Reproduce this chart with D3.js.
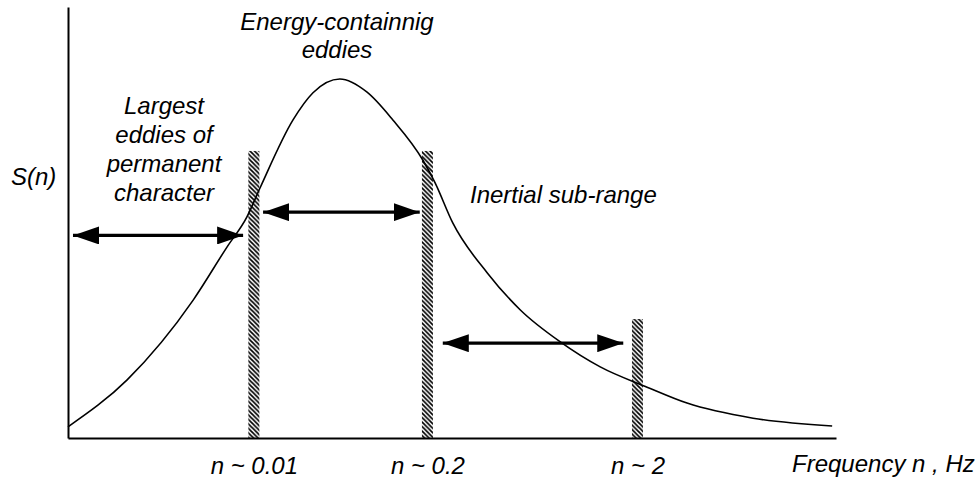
<!DOCTYPE html>
<html>
<head>
<meta charset="utf-8">
<script src="https://cdn.jsdelivr.net/npm/d3@7"></script>
<style>
  html, body { margin: 0; padding: 0; background: #fff; }
  svg { display: block; }
  text { font-family: "Liberation Sans", Arial, sans-serif; font-style: italic; fill: #000; }
</style>
</head>
<body>
<svg id="chart" width="977" height="478"></svg>
<script>
// ---- Data (schematic units) ----
// Spectrum curve S(n): position along frequency axis (arbitrary units) and value
const curveX = [0, 0.77, 1.63, 2.07, 2.33, 2.50, 2.93, 3.19, 3.54, 3.89, 4.23, 4.62, 4.78, 5.01, 5.46, 5.89, 6.41, 6.93, 7.54, 8.06, 8.92, 9.95];
const curveY = [0.26, 1.35, 3.20, 4.43, 5.13, 5.80, 7.38, 8.01, 8.33, 8.03, 7.38, 6.45, 5.92, 4.99, 3.83, 2.97, 2.23, 1.65, 1.18, 0.81, 0.46, 0.28];

// Hatched separators (frequency boundaries)
const boundaryX = [2.42, 4.68, 7.415];
const boundaryTop = [6.66, 6.66, 2.76];
const boundaryLabels = ["n ~ 0.01", "n ~ 0.2", "n ~ 2"];

// Double-headed range arrows
const arrowX0 = [0.065, 2.54, 4.88];
const arrowX1 = [2.28, 4.58, 7.23];
const arrowY = [4.70, 5.24, 2.20];

// Text labels
const regionLabels = [
  ["Largest", "eddies of", "permanent", "character"],
  ["Energy-containnig", "eddies"],
  ["Inertial sub-range"]
];
const xAxisTitle = "Frequency n , Hz";
const yAxisTitle = "S(n)";

// ---- Layout ----
const svg = d3.select("#chart");
const x = d3.scaleLinear().domain([0, 10]).range([68, 836]);
const y = d3.scaleLinear().domain([0, 10]).range([438, 7]);
const FONT = 24;
const barW = 11;

// Hatch pattern
const defs = svg.append("defs");
const P = 4.5;
const pat = defs.append("pattern")
  .attr("id", "hatch")
  .attr("patternUnits", "userSpaceOnUse")
  .attr("width", P).attr("height", P);
pat.append("rect").attr("width", P).attr("height", P).attr("fill", "#fff");
pat.append("path")
  .attr("d", `M-1,-1 L${P + 1},${P + 1} M-1,${P - 1} L1,${P + 1} M${P - 1},-1 L${P + 1},1`)
  .attr("stroke", "#000").attr("stroke-width", 1.7);

// Arrow markers
function addMarker(id, orient) {
  defs.append("marker")
    .attr("id", id)
    .attr("viewBox", "0 0 26 18")
    .attr("refX", 26).attr("refY", 9)
    .attr("markerWidth", 26).attr("markerHeight", 18)
    .attr("markerUnits", "userSpaceOnUse")
    .attr("orient", orient)
    .append("path")
    .attr("d", "M0,0 L26,9 L0,18 Z")
    .attr("fill", "#000");
}
addMarker("arrowEnd", "auto");
addMarker("arrowStart", "auto-start-reverse");

// Boundaries (hatched bars)
const bounds = boundaryX.map((d, i) => ({ x: d, top: boundaryTop[i], label: boundaryLabels[i] }));
svg.append("g").selectAll("rect")
  .data(bounds)
  .join("rect")
  .attr("x", d => x(d.x) - barW / 2)
  .attr("y", d => y(d.top))
  .attr("width", barW)
  .attr("height", d => y(0) - y(d.top))
  .attr("fill", "url(#hatch)");

// Curve
const pts = curveX.map((d, i) => [d, curveY[i]]);
const line = d3.line().x(d => x(d[0])).y(d => y(d[1])).curve(d3.curveMonotoneX);
svg.append("path")
  .datum(pts)
  .attr("d", line)
  .attr("fill", "none")
  .attr("stroke", "#000")
  .attr("stroke-width", 1.6);

// Arrows
const arrows = arrowX0.map((d, i) => ({ x0: d, x1: arrowX1[i], y: arrowY[i] }));
svg.append("g").selectAll("line")
  .data(arrows)
  .join("line")
  .attr("x1", d => x(d.x0)).attr("x2", d => x(d.x1))
  .attr("y1", d => y(d.y)).attr("y2", d => y(d.y))
  .attr("stroke", "#000")
  .attr("stroke-width", 3.2)
  .attr("marker-start", "url(#arrowStart)")
  .attr("marker-end", "url(#arrowEnd)");

// Axes
const xAxis = d3.axisBottom(x)
  .tickValues(boundaryX)
  .tickFormat((d, i) => boundaryLabels[i])
  .tickSize(0)
  .tickPadding(19);
const gx = svg.append("g").attr("transform", `translate(0,${y(0)})`).call(xAxis);
gx.select(".domain").attr("stroke", "#000").attr("stroke-width", 2);
gx.selectAll(".tick text")
  .attr("font-size", FONT)
  .attr("font-family", null)
  .attr("dy", "0.71em");

const yAxis = d3.axisLeft(y).tickValues([]).tickSize(0);
const gy = svg.append("g").attr("transform", `translate(${x(0)},0)`).call(yAxis);
gy.select(".domain").attr("stroke", "#000").attr("stroke-width", 2);

// Axis titles
svg.append("text").attr("x", 792).attr("y", 472).attr("font-size", FONT).text(xAxisTitle);
svg.append("text").attr("x", 11).attr("y", 185).attr("font-size", FONT).text(yAxisTitle);

// Region labels
const labelPos = [
  { cx: 164, y0: 114, dy: 29, anchor: "middle" },
  { cx: 337, y0: 30, dy: 27.5, anchor: "middle" },
  { cx: 470, y0: 203, dy: 29, anchor: "start" }
];
regionLabels.forEach((lines, i) => {
  const p = labelPos[i];
  svg.append("g").selectAll("text")
    .data(lines)
    .join("text")
    .attr("x", p.cx)
    .attr("y", (d, j) => p.y0 + j * p.dy)
    .attr("text-anchor", p.anchor)
    .attr("font-size", FONT)
    .text(d => d);
});
</script>
</body>
</html>
